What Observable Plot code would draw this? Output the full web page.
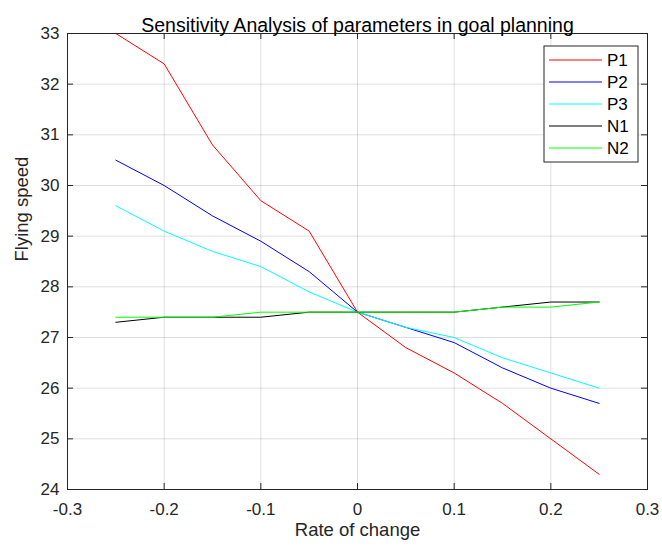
<!DOCTYPE html>
<html>
<head>
<meta charset="utf-8">
<script src="https://cdn.jsdelivr.net/npm/d3@7"></script>
<script src="https://cdn.jsdelivr.net/npm/@observablehq/plot@0.6"></script>
<style>
  html, body { margin: 0; padding: 0; background: #fff; }
  svg text { font-family: "Liberation Sans", Arial, Helvetica, sans-serif; }
</style>
</head>
<body>
<div id="chart"></div>
<script>
const rates = [-0.25, -0.2, -0.15, -0.1, -0.05, 0, 0.05, 0.1, 0.15, 0.2, 0.25];
const P1 = [33.0, 32.4, 30.8, 29.7, 29.1, 27.5, 26.8, 26.3, 25.7, 25.0, 24.3];
const P2 = [30.5, 30.0, 29.4, 28.9, 28.3, 27.5, 27.2, 26.9, 26.4, 26.0, 25.7];
const P3 = [29.6, 29.1, 28.7, 28.4, 27.9, 27.5, 27.2, 27.0, 26.6, 26.3, 26.0];
const N1 = [27.3, 27.4, 27.4, 27.4, 27.5, 27.5, 27.5, 27.5, 27.6, 27.7, 27.7];
const N2 = [27.4, 27.4, 27.4, 27.5, 27.5, 27.5, 27.5, 27.5, 27.6, 27.6, 27.7];
const seriesNames = ["P1", "P2", "P3", "N1", "N2"];
const seriesValues = [P1, P2, P3, N1, N2];
const seriesColors = ["#ff0000", "#0000ff", "#00ffff", "#000000", "#00ff00"];
const xTicks = [-0.3, -0.2, -0.1, 0, 0.1, 0.2, 0.3];
const xTickLabels = ["-0.3", "-0.2", "-0.1", "0", "0.1", "0.2", "0.3"];
const yTicks = [24, 25, 26, 27, 28, 29, 30, 31, 32, 33];
const yTickLabels = ["24", "25", "26", "27", "28", "29", "30", "31", "32", "33"];
const titleText = "Sensitivity Analysis of parameters in goal planning";
const xLabel = "Rate of change";
const yLabel = "Flying speed";

const data = seriesNames.flatMap((name, i) =>
  rates.map((r, j) => ({rate: r, speed: seriesValues[i][j], series: name}))
);

const W = 662, H = 547;
const mL = 67, mR = 15, mT = 33, mB = 58;
const innerH = H - mT - mB;
const innerW = W - mL - mR;
const tickLen = 6;
const axisColor = "#262626";
const font = "Liberation Sans, Arial, Helvetica, sans-serif";

const chart = Plot.plot({
  width: W,
  height: H,
  marginLeft: mL,
  marginRight: mR,
  marginTop: mT,
  marginBottom: mB,
  style: {fontFamily: font, fontSize: "17px", color: axisColor, background: "#fff"},
  x: {domain: [-0.3, 0.3]},
  y: {domain: [24, 33]},
  color: {domain: seriesNames, range: seriesColors},
  marks: [
    Plot.ruleX(xTicks, {x: d => d, stroke: "#000", strokeOpacity: 0.13}),
    Plot.ruleY(yTicks, {y: d => d, stroke: "#000", strokeOpacity: 0.13}),
    Plot.lineY(data, {x: "rate", y: "speed", z: "series", stroke: "series", strokeWidth: 1}),
    Plot.frame({stroke: axisColor, strokeWidth: 1}),
    Plot.ruleX(xTicks, {x: d => d, stroke: axisColor, insetTop: innerH - tickLen}),
    Plot.ruleX(xTicks, {x: d => d, stroke: axisColor, insetBottom: innerH - tickLen}),
    Plot.ruleY(yTicks, {y: d => d, stroke: axisColor, insetRight: innerW - tickLen}),
    Plot.ruleY(yTicks, {y: d => d, stroke: axisColor, insetLeft: innerW - tickLen}),
    Plot.axisX(xTicks, {tickSize: 0, tickPadding: 13, tickFormat: (d, i) => xTickLabels[i], label: null, fill: axisColor, fontSize: 17}),
    Plot.axisY(yTicks, {tickSize: 0, tickPadding: 8, tickFormat: (d, i) => yTickLabels[i], label: null, fill: axisColor, fontSize: 17}),
    Plot.text([titleText], {frameAnchor: "top", dy: -15, fontSize: 19.5, fill: "#000"}),
    Plot.text([xLabel], {frameAnchor: "bottom", dy: 46, fontSize: 18.5, fill: axisColor}),
    Plot.text([yLabel], {frameAnchor: "left", dx: -45, rotate: -90, fontSize: 18.5, fill: axisColor})
  ]
});

document.getElementById("chart").appendChild(chart);

// Legend (MATLAB style box, top-right inside the axes)
const svg = d3.select(chart);
const lg = svg.append("g").attr("font-family", font).attr("font-size", 17).attr("text-anchor", "start");
const boxX = 544, boxY = 46, boxW = 94, boxH = 116;
lg.append("rect").attr("x", boxX).attr("y", boxY).attr("width", boxW).attr("height", boxH)
  .attr("fill", "#fff").attr("stroke", axisColor).attr("stroke-width", 1);
seriesNames.forEach((name, i) => {
  const yy = boxY + 14 + i * 22;
  lg.append("line").attr("x1", boxX + 5).attr("x2", boxX + 58).attr("y1", yy).attr("y2", yy)
    .attr("stroke", seriesColors[i]).attr("stroke-width", 1);
  lg.append("text").attr("x", boxX + 63).attr("y", yy).attr("dy", "0.35em")
    .attr("text-anchor", "start").attr("fill", "#000").text(name);
});
</script>
</body>
</html>
